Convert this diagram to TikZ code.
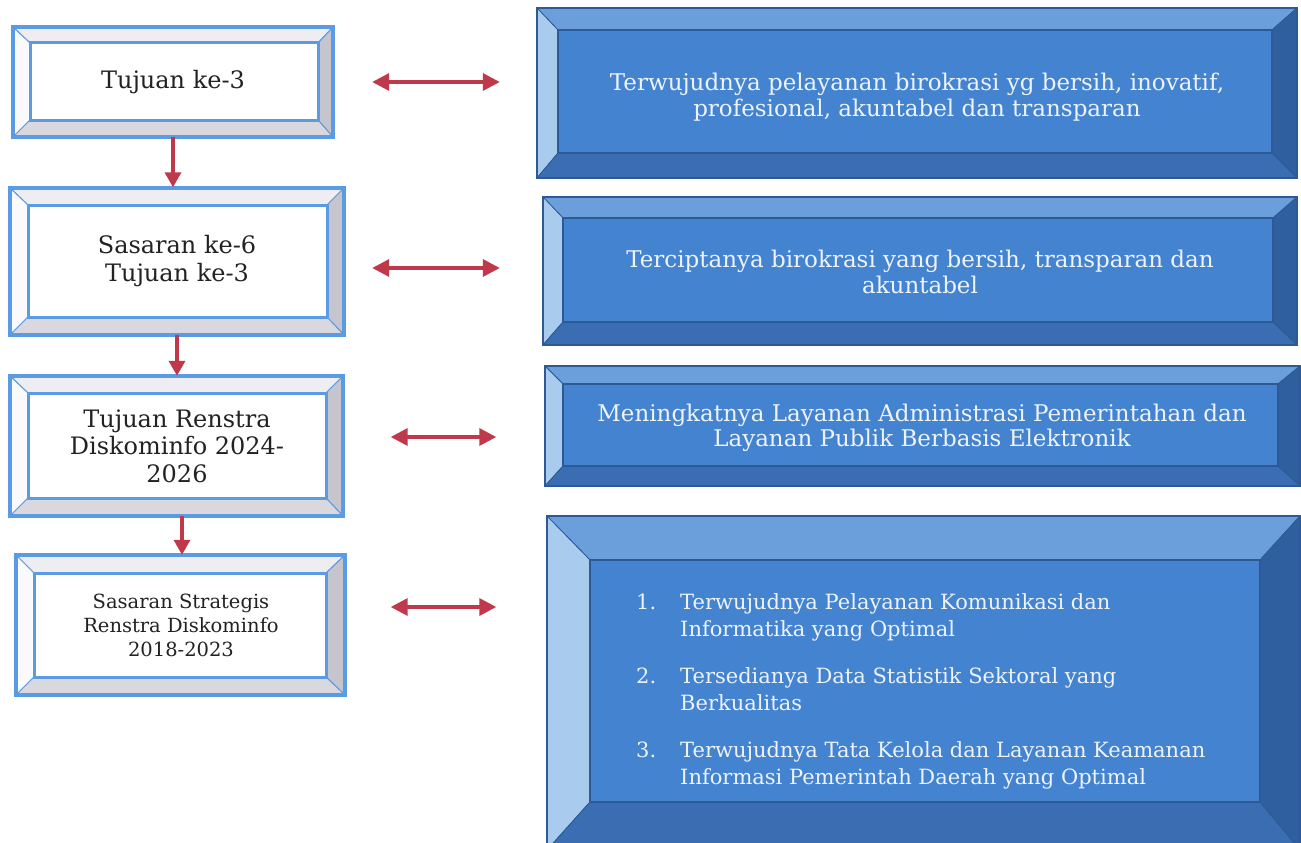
\documentclass[tikz,border=0pt]{standalone}
\usepackage{fontspec}
\setmainfont{DejaVu Serif}
\usetikzlibrary{arrows.meta}
\definecolor{lblue}{HTML}{5B9BE3}
\definecolor{ltopc}{HTML}{EEEEF2}
\definecolor{lleftc}{HTML}{FAFAFC}
\definecolor{lrightc}{HTML}{C6C4CC}
\definecolor{lbotc}{HTML}{D9D8DE}
\definecolor{rface}{HTML}{4383CF}
\definecolor{rtopc}{HTML}{6B9FDC}
\definecolor{rleftc}{HTML}{A9CCEE}
\definecolor{rrightc}{HTML}{2F5F9F}
\definecolor{rbotc}{HTML}{3A6DB1}
\definecolor{redge}{HTML}{2D5A95}
\definecolor{rtext}{HTML}{EEF3FA}
\definecolor{arrred}{HTML}{C0394B}
\definecolor{ltextc}{HTML}{222222}
\tikzset{
  Lface/.style={fill=white},
  Ltop/.style={fill=ltopc, draw=lblue, line width=1pt},
  Lleft/.style={fill=lleftc, draw=lblue, line width=1pt},
  Lright/.style={fill=lrightc, draw=lblue, line width=1pt},
  Lbot/.style={fill=lbotc, draw=lblue, line width=1pt},
  Ledge/.style={draw=lblue, line width=3.5pt},
  Linner/.style={draw=lblue, line width=3pt},
  Rface/.style={fill=rface},
  Rtop/.style={fill=rtopc, draw=redge, line width=0.8pt},
  Rleft/.style={fill=rleftc, draw=redge, line width=0.8pt},
  Rright/.style={fill=rrightc, draw=redge, line width=0.8pt},
  Rbot/.style={fill=rbotc, draw=redge, line width=0.8pt},
  Redge/.style={draw=redge, line width=1.5pt},
  Rinner/.style={draw=redge, line width=1.2pt},
  ltext/.style={text=ltextc, align=center, inner sep=0pt, font=\fontsize{24}{27.5}\selectfont},
  rtext/.style={text=rtext, align=center, inner sep=0pt, font=\fontsize{23}{25.5}\selectfont},
  harr/.style={draw=arrred, line width=3.4pt, {Triangle[length=17pt,width=17pt]}-{Triangle[length=17pt,width=17pt]}},
  varr/.style={draw=arrred, line width=3.4pt, -{Triangle[length=15pt,width=16pt]}},
}
\newcommand\bevel[9]{%
  \pgfmathsetmacro\ia{#2+#6}\pgfmathsetmacro\ib{#3+#7}%
  \pgfmathsetmacro\ic{#4-#8}\pgfmathsetmacro\id{#5-#9}%
  \fill[#1face] (\ia,\ib) rectangle (\ic,\id);
  \filldraw[#1top] (#2,#3) -- (#4,#3) -- (\ic,\ib) -- (\ia,\ib) -- cycle;
  \filldraw[#1left] (#2,#3) -- (\ia,\ib) -- (\ia,\id) -- (#2,#5) -- cycle;
  \filldraw[#1right] (#4,#3) -- (#4,#5) -- (\ic,\id) -- (\ic,\ib) -- cycle;
  \filldraw[#1bot] (#2,#5) -- (\ia,\id) -- (\ic,\id) -- (#4,#5) -- cycle;
  \draw[#1inner] (\ia,\ib) rectangle (\ic,\id);
  \draw[#1edge] (#2,#3) rectangle (#4,#5);
}
\begin{document}
\begin{tikzpicture}[x=1pt,y=-1pt]
\fill[white] (0,0) rectangle (1301,843);
\useasboundingbox (0,0) rectangle (1301,843);
% left boxes
\bevel{L}{13}{27}{333}{137}{17}{16}{15}{17}
\bevel{L}{10}{188}{344}{335}{18}{17}{17}{18}
\bevel{L}{10}{376}{343}{516}{18}{17}{17}{18}
\bevel{L}{16}{555}{345}{695}{18}{18}{19}{18}
% right boxes
\bevel{R}{537}{8}{1297}{178}{21}{22}{25}{25}
\bevel{R}{543}{197}{1297}{345}{20}{21}{24}{23}
\bevel{R}{545}{366}{1300}{486}{18}{18}{22}{20}
\bevel{R}{547}{516}{1300}{850}{43}{44}{40}{48}
% nodes
\node[ltext, minimum width=320, minimum height=110] (L1) at (173,82) {\raisebox{-2pt}{Tujuan ke-3}};
\node[ltext, minimum width=334, minimum height=147] (L2) at (177,261) {Sasaran ke-6\\Tujuan ke-3};
\node[ltext, minimum width=333, minimum height=140] (L3) at (177,446) {\raisebox{-2pt}{Tujuan Renstra}\\\raisebox{-2pt}{Diskominfo 2024-}\\\raisebox{-2pt}{2026}};
\node[ltext, minimum width=329, minimum height=140, font=\fontsize{19.5}{24}\selectfont] (L4) at (181,625) {Sasaran Strategis\\Renstra Diskominfo\\2018-2023};
\node[rtext, minimum width=760, minimum height=170] (R1) at (917,97) {Terwujudnya pelayanan birokrasi yg bersih, inovatif,\\profesional, akuntabel dan transparan};
\node[rtext, minimum width=754, minimum height=148] (R2) at (920,272) {Terciptanya birokrasi yang bersih, transparan dan\\akuntabel};
\node[rtext, minimum width=755, minimum height=120] (R3) at (922,428) {Meningkatnya Layanan Administrasi Pemerintahan dan\\Layanan Publik Berbasis Elektronik};
\node[rtext, minimum width=753, minimum height=327] (R4) at (923,680) {};
\node[rtext, anchor=north west, align=left, font=\fontsize{21}{27.5}\selectfont] (list) at (636,590) {%
\begin{tabular}{@{}l@{\hspace{24pt}}l@{}}
1. & Terwujudnya Pelayanan Komunikasi dan\\
   & Informatika yang Optimal\\[19pt]
2. & Tersedianya Data Statistik Sektoral yang\\
   & Berkualitas\\[19pt]
3. & Terwujudnya Tata Kelola dan Layanan Keamanan\\
   & Informasi Pemerintah Daerah yang Optimal
\end{tabular}};
% connectors
\coordinate (a1) at ([xshift=39]L1.east);
\coordinate (a2) at ([xshift=28,yshift=-7]L2.east);
\coordinate (a3) at ([xshift=47,yshift=9]L3.east);
\coordinate (a4) at ([xshift=45,yshift=18]L4.east);
\coordinate (b1) at ([xshift=-37]R1.west |- a1);
\coordinate (b2) at ([xshift=-43]R2.west |- a2);
\coordinate (b3) at ([xshift=-48]R3.west |- a3);
\coordinate (b4) at ([xshift=-50]R4.west |- a4);
\draw[harr] (a1) -- (b1);
\draw[harr] (a2) -- (b2);
\draw[harr] (a3) -- (b3);
\draw[harr] (a4) -- (b4);
\draw[varr] (L1.south) -- (L1.south |- L2.north);
\draw[varr] (L2.south) -- (L2.south |- L3.north);
\draw[varr] ([xshift=5]L3.south) -- ([xshift=5]L3.south |- L4.north);
\end{tikzpicture}
\end{document}
